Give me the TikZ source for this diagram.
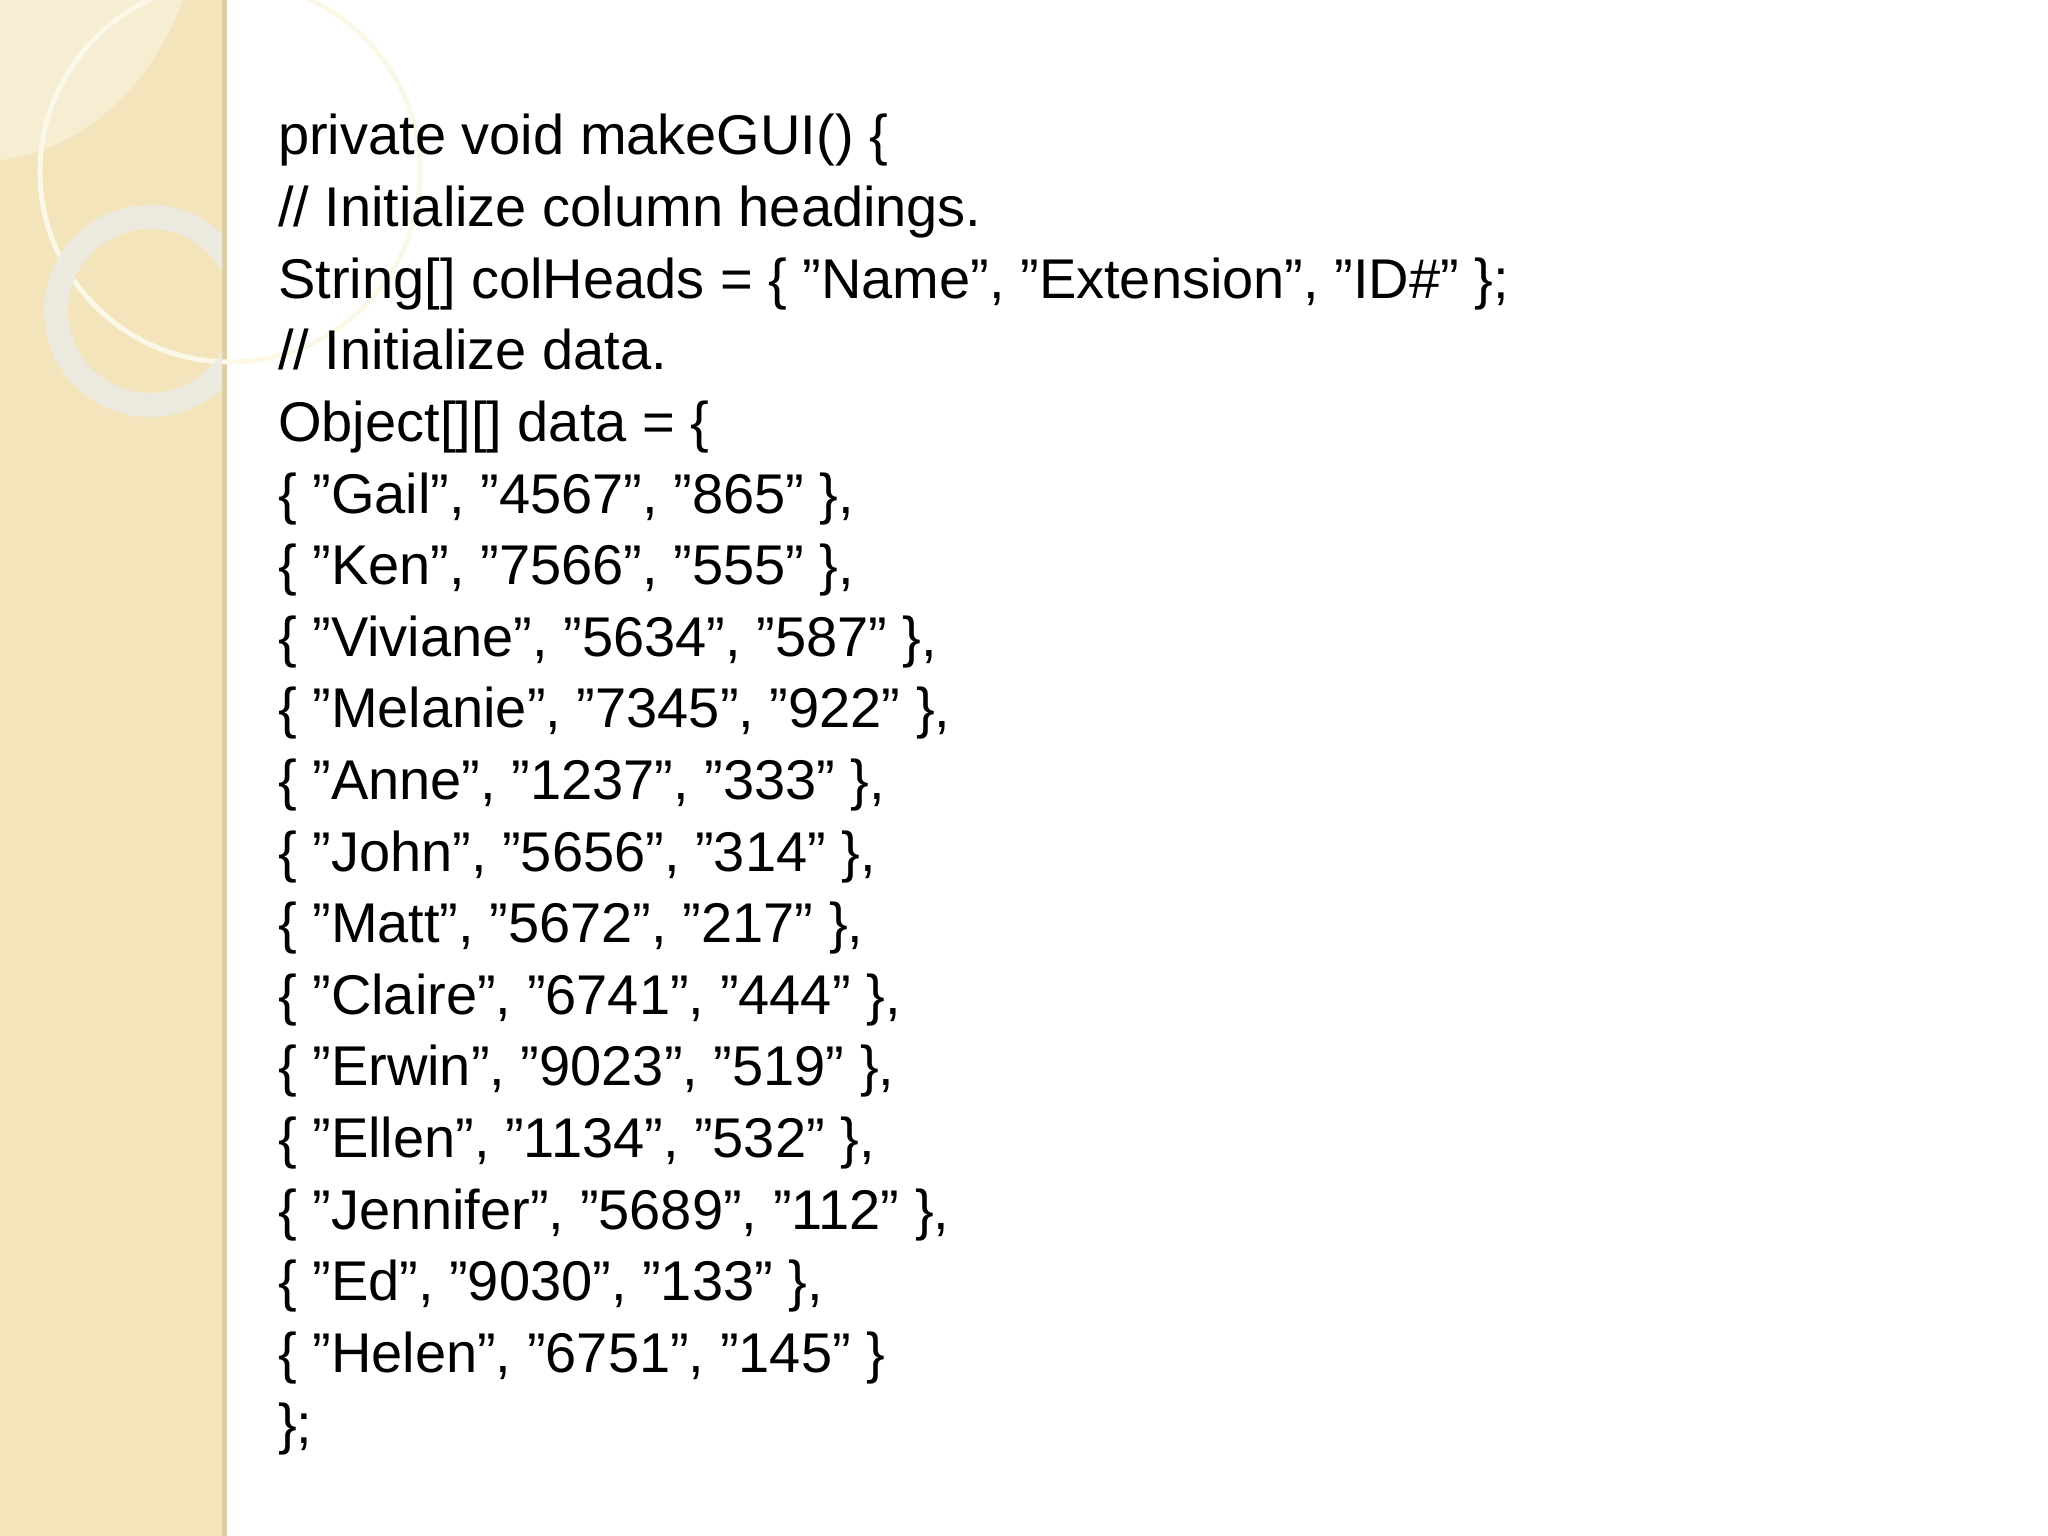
\documentclass[tikz,border=0pt]{standalone}
\usepackage{fontspec}
\setmainfont{Liberation Sans}
\begin{document}
\begin{tikzpicture}[x=1pt,y=-1pt,
  codeline/.style={anchor=base west,inner sep=0pt,font=\fontsize{56}{60}\selectfont}]
\useasboundingbox (0,0) rectangle (2048,1536);
\fill[white] (0,0) rectangle (2048,1536);
\fill[color={rgb,255:red,243;green,228;blue,188}] (0,0) rectangle (227,1536);
\fill[color={rgb,255:red,220;green,205;blue,165}] (222,0) rectangle (227,1536);
\fill[white,opacity=0.35] (0,0) -- (183,0) .. controls (150,90) and (80,150) .. (0,160) -- cycle;
\draw[color={rgb,255:red,252;green,248;blue,232},line width=5] (230,172) circle[radius=190];
\begin{scope}
\clip (0,0) rectangle (222,1536);
\draw[color={rgb,255:red,236;green,234;blue,226},opacity=0.9,line width=24] (150,311) circle[radius=94];
\end{scope}
\def\ys{71.6}
\foreach \t [count=\i from 0] in {%
 {private void makeGUI() \{},
 {// Initialize column headings.},
 {String[] colHeads = \{ "Name", "Extension", "ID\#" \};},
 {// Initialize data.},
 {Object[][] data = \{},
 {\{ "Gail", "4567", "865" \},},
 {\{ "Ken", "7566", "555" \},},
 {\{ "Viviane", "5634", "587" \},},
 {\{ "Melanie", "7345", "922" \},},
 {\{ "Anne", "1237", "333" \},},
 {\{ "John", "5656", "314" \},},
 {\{ "Matt", "5672", "217" \},},
 {\{ "Claire", "6741", "444" \},},
 {\{ "Erwin", "9023", "519" \},},
 {\{ "Ellen", "1134", "532" \},},
 {\{ "Jennifer", "5689", "112" \},},
 {\{ "Ed", "9030", "133" \},},
 {\{ "Helen", "6751", "145" \}},
 {\};}}
 \node[codeline] (l\i) at (278,{155+\i*\ys}) {\t};
\end{tikzpicture}
\end{document}
